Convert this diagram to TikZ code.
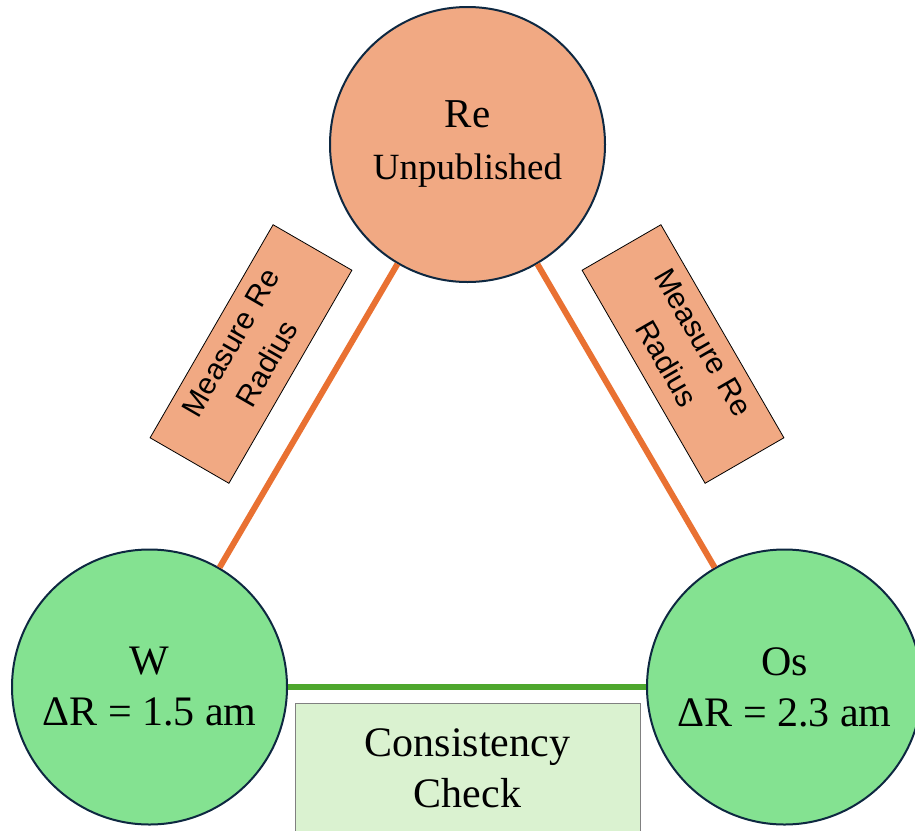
\documentclass[tikz,border=0pt]{standalone}
\usepackage{fontspec}
\setmainfont{Liberation Serif}
\newfontfamily\arialfont{Liberation Sans}
\usetikzlibrary{calc}
\definecolor{orfill}{HTML}{F1A983}
\definecolor{orline}{HTML}{E97132}
\definecolor{grfill}{HTML}{84E291}
\definecolor{grline}{HTML}{4EA72E}
\definecolor{navy}{HTML}{0E2841}
\definecolor{ccfill}{HTML}{DAF2D0}
\definecolor{ccline}{HTML}{808080}
\begin{document}
\begin{tikzpicture}[x=1pt,y=-1pt,
  elem/.style={circle, draw=navy, line width=2pt, minimum size=275pt, inner sep=0pt, align=center},
  recirc/.style={elem, fill=orfill, font=\fontsize{37}{52}\selectfont},
  grcirc/.style={elem, fill=grfill, font=\fontsize{42}{51}\selectfont},
  lblbox/.style={rectangle, draw=black, line width=0.8pt, fill=orfill, minimum width=246pt, minimum height=91pt, inner sep=0pt},
  lbltext/.style={text width=230pt, align=center, inner sep=0pt, font=\arialfont\fontsize{30}{42}\selectfont},
  ccbox/.style={rectangle, draw=ccline, line width=1pt, fill=ccfill, minimum width=345pt, minimum height=130pt, inner sep=0pt, align=center, font=\fontsize{42}{51}\selectfont},
  orlink/.style={draw=orline, line width=6pt},
  grlink/.style={draw=grline, line width=6.5pt}
]
\useasboundingbox (0,0) rectangle (915,830);
\clip (0,0) rectangle (915,830);
\fill[white] (0,0) rectangle (915,830);

\node[recirc] (re) at (467.5,144.5) {{\fontsize{41}{52}\selectfont Re}\\Unpublished};
\node[grcirc] (w) at (149.5,687) {W\\ΔR = 1.5 am};
\node[grcirc] (os) at (784.5,687) {Os\\ΔR = 2.3 am};

\draw[orlink] (re) -- (w);
\draw[orlink] (re) -- (os);
\draw[grlink] (w) -- (os);

\node[lblbox, rotate=60] (l1) at (251,354) {};
\node[lbltext, rotate=60] (t1) at ($(l1.center)+(-2,-1)$) {Measure Re\\Radius};
\node[lblbox, rotate=-60] (l2) at (683,354) {};
\node[lbltext, rotate=-60] (t2) at ($(l2.center)+(2,-1)$) {Measure Re\\Radius};

\node[ccbox] (cc) at (467.5,768) {Consistency\\Check};
\end{tikzpicture}
\end{document}
